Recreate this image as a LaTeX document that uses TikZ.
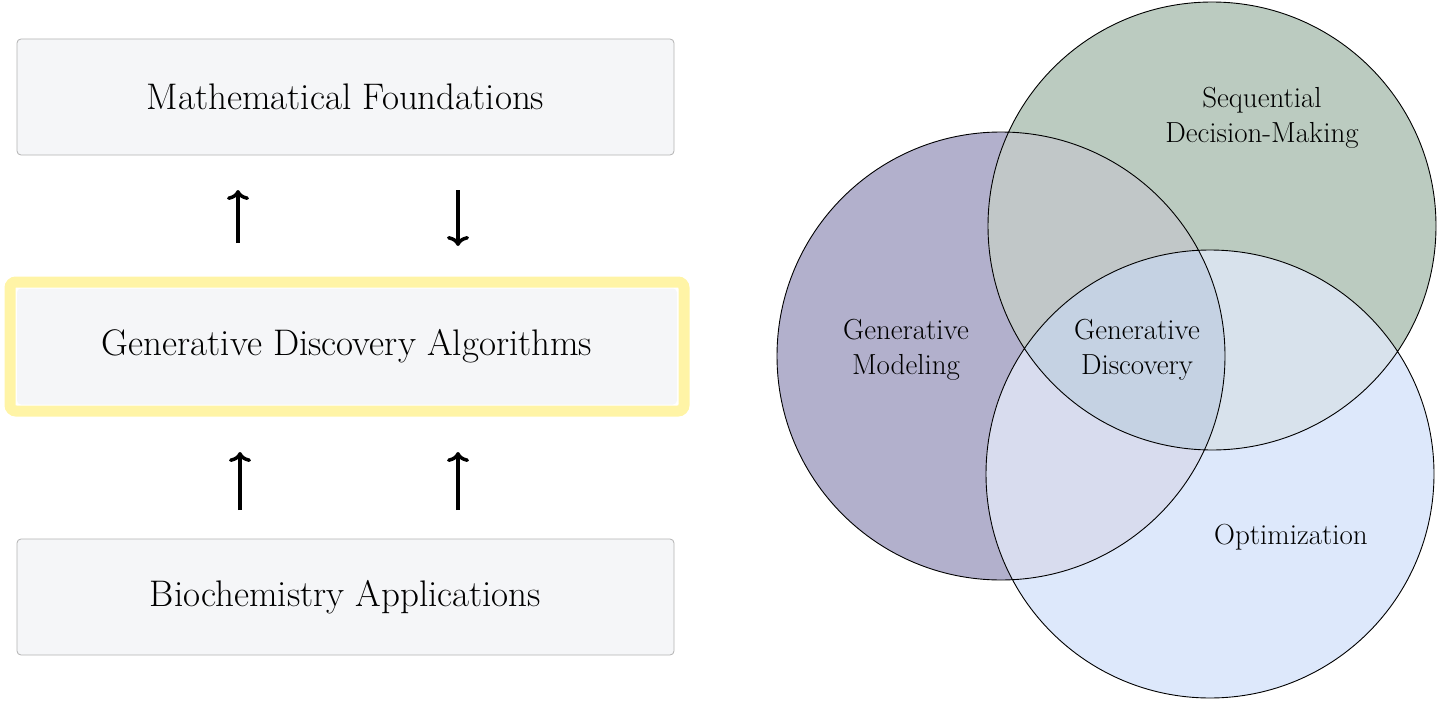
\documentclass[tikz,border=0pt]{standalone}
\usetikzlibrary{arrows.meta}
\begin{document}
\begin{tikzpicture}[x=1pt,y=-1pt,
 box/.style={draw=black!30,line width=0.8pt,fill=boxfill,rounded corners=4pt,minimum width=657pt,minimum height=116pt,font=\fontsize{37}{44}\selectfont},
 arr/.style={line width=3.5pt,-{To[length=10pt,width=22pt]}},
 lab/.style={font=\fontsize{29}{35}\selectfont,align=center}]
\definecolor{boxfill}{HTML}{F5F6F8}
\definecolor{hl}{HTML}{FFF4A6}
\definecolor{cgm}{HTML}{B2B0CC}
\definecolor{cseq}{HTML}{BBCBC0}
\definecolor{copt}{HTML}{DDE8FB}
\definecolor{cgs}{HTML}{C1C7C8}
\definecolor{cgo}{HTML}{D8DCEE}
\definecolor{cso}{HTML}{D8E2EC}
\definecolor{call}{HTML}{C5D2E3}
\useasboundingbox (0,0) rectangle (1441,701);
% left column
\node[box] (math) at (345.5,97) {Mathematical Foundations};
\draw[hl,line width=11pt,rounded corners=6pt] (10,282) rectangle (684,411);
\node[box,draw=none,minimum width=660pt] (gda) at (347,346.5) {Generative Discovery Algorithms};
\node[box] (bio) at (345.5,597) {Biochemistry Applications};
\coordinate (a1s) at (238,243); \coordinate (a1e) at (238,190);
\coordinate (a2s) at (458,190); \coordinate (a2e) at (458,246);
\coordinate (a3s) at (240,510); \coordinate (a3e) at (240,452);
\coordinate (a4s) at (458,510); \coordinate (a4e) at (458,452);
\draw[arr] (a1s) -- (a1e);
\draw[arr] (a2s) -- (a2e);
\draw[arr] (a3s) -- (a3e);
\draw[arr] (a4s) -- (a4e);
% venn
\def\rr{224}
\coordinate (G) at (1001,356);
\coordinate (S) at (1212,226);
\coordinate (O) at (1210,474);
\fill[cgm] (G) circle (\rr);
\fill[cseq] (S) circle (\rr);
\fill[copt] (O) circle (\rr);
\begin{scope}\clip (G) circle (\rr); \fill[cgs] (S) circle (\rr); \end{scope}
\begin{scope}\clip (G) circle (\rr); \fill[cgo] (O) circle (\rr); \end{scope}
\begin{scope}\clip (S) circle (\rr); \fill[cso] (O) circle (\rr); \end{scope}
\begin{scope}\clip (S) circle (\rr); \clip (G) circle (\rr); \fill[call] (O) circle (\rr); \end{scope}
\draw[line width=0.9pt] (G) circle (\rr) (S) circle (\rr) (O) circle (\rr);
\node[lab] (lg) at (906,350) {Generative\\Modeling};
\node[lab] (ls) at (1262,118) {Sequential\\Decision-Making};
\node[lab] (lc) at (1137,350) {Generative\\Discovery};
\node[lab] (lo) at (1291,537) {Optimization};
\end{tikzpicture}
\end{document}
